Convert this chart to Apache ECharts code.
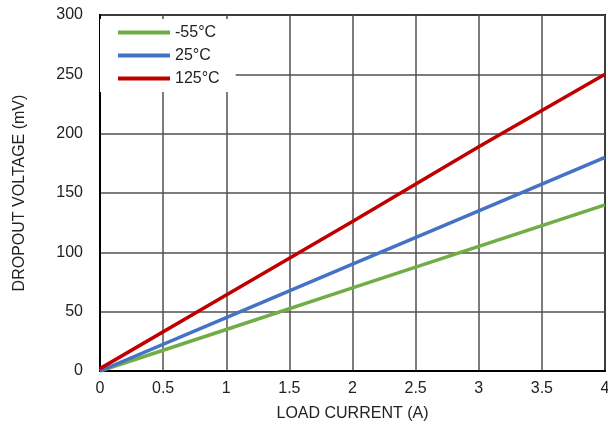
<!DOCTYPE html>
<html><head><meta charset="utf-8">
<script src="https://cdn.jsdelivr.net/npm/echarts@6/dist/echarts.min.js"></script>
<style>html,body{margin:0;padding:0;background:#fff}#c{width:608px;height:428px}</style>
</head><body><div id="c"></div>
<script>
const currentA = [0, 1, 2, 3, 4];
const mvMinus55 = [0, 35, 70, 105, 140];
const mv25 = [0, 45, 90, 135, 180];
const mv125 = [2, 64, 126, 189, 250];
const seriesNames = ['-55°C', '25°C', '125°C'];
const xTicks = [0, 0.5, 1, 1.5, 2, 2.5, 3, 3.5, 4];
const yTicks = [0, 50, 100, 150, 200, 250, 300];

const FONT = '"Liberation Sans", Arial, sans-serif';
const pair = (xs, ys) => xs.map((x, i) => [x, ys[i]]);
const colors = ['#70ad47', '#4472c4', '#c00000'];
const dataSets = [mvMinus55, mv25, mv125];

const chart = echarts.init(document.getElementById('c'), null, {renderer: 'canvas'});
chart.setOption({
  animation: false,
  grid: {left: 100, right: 3, top: 15, bottom: 57, show: true, borderColor: '#000', borderWidth: 2,
         containLabel: false, outerBoundsMode: 'none'},
  legend: {
    orient: 'vertical', left: 100, top: 19, padding: [5, 16, 5, 18], itemGap: 6,
    backgroundColor: '#fff', itemWidth: 52, itemHeight: 4, itemStyle: {borderWidth: 0},
    textStyle: {fontFamily: FONT, fontSize: 16, color: '#222', lineHeight: 17, padding: [0, 0, 0, 0]},
    data: seriesNames.map((n, i) => ({name: n, icon: 'rect', itemStyle: {color: colors[i]}})),
    z: 10
  },
  xAxis: {
    type: 'value', min: xTicks[0], max: xTicks[xTicks.length - 1], interval: 0.5,
    name: 'LOAD CURRENT (A)', nameLocation: 'middle', nameGap: 35,
    nameTextStyle: {fontFamily: FONT, fontSize: 16, color: '#222'},
    axisLine: {show: true, lineStyle: {color: '#000', width: 2}},
    axisTick: {show: false},
    axisLabel: {fontFamily: FONT, fontSize: 16, color: '#222', margin: 10},
    splitLine: {show: true, lineStyle: {color: '#505050', width: 1.5}}
  },
  yAxis: {
    type: 'value', min: yTicks[0], max: yTicks[yTicks.length - 1], interval: 50,
    name: 'DROPOUT VOLTAGE (mV)', nameLocation: 'middle', nameGap: 72, nameRotate: 90,
    nameTextStyle: {fontFamily: FONT, fontSize: 16, color: '#222'},
    axisLine: {show: true, lineStyle: {color: '#000', width: 2}},
    axisTick: {show: false},
    axisLabel: {fontFamily: FONT, fontSize: 16, color: '#222', margin: 17},
    splitLine: {show: true, lineStyle: {color: '#505050', width: 1.5}}
  },
  series: seriesNames.map((n, i) => ({
    name: n, type: 'line', data: pair(currentA, dataSets[i]), showSymbol: false, symbol: 'none',
    lineStyle: {color: colors[i], width: 3.5}, itemStyle: {color: colors[i]}, z: 3
  }))
});
</script></body></html>
